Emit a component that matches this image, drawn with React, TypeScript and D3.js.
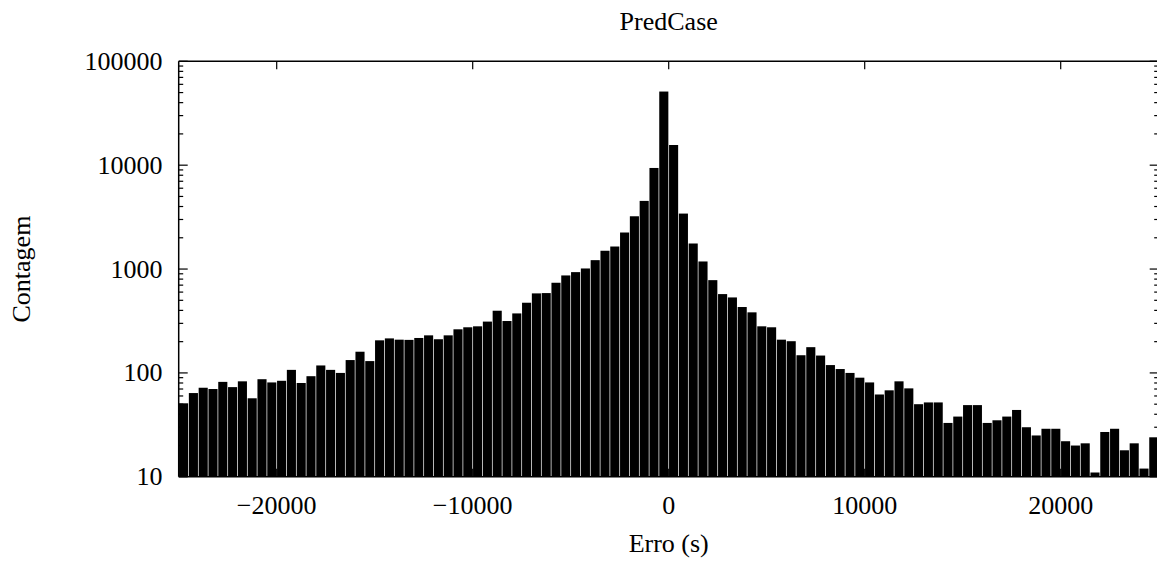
import React from "react";
import * as d3 from "d3";

// ---- data ----
const binStartMin = -25000;
const binWidth = 500;
const counts: number[] = [
  51, 64, 72, 70, 82, 73, 83, 57, 87, 81,
  84, 107, 80, 93, 118, 107, 100, 133, 160, 130,
  206, 215, 209, 208, 217, 230, 211, 230, 263, 275,
  281, 312, 397, 316, 374, 474, 583, 587, 738, 868,
  934, 1013, 1218, 1500, 1648, 2248, 3222, 4530, 9400, 51150,
  15640, 3420, 1762, 1183, 782, 574, 533, 431, 383, 281,
  275, 209, 202, 148, 177, 147, 119, 109, 100, 90,
  81, 62, 68, 83, 71, 50, 52, 52, 33, 38,
  49, 49, 33, 35, 38, 44, 30, 25, 29, 29,
  22, 20, 21, 11, 27, 29, 18, 21, 12, 24,
];
const xTicks: number[] = [-20000, -10000, 0, 10000, 20000];
const yMajorTicks: number[] = [10, 100, 1000, 10000, 100000];
const titleText = "PredCase";
const xLabel = "Erro (s)";
const yLabel = "Contagem";

const W = 1157;
const H = 561;
const L = 178.7;
const R = 1158.7;
const T = 61.3;
const B = 476.8;
const FONT = "'Liberation Serif', 'Times New Roman', serif";

export default function App() {
  const x = d3.scaleLinear().domain([-25000, 25000]).range([L, R]);
  const y = d3.scaleLog().domain([10, 100000]).range([B, T]);

  const bins = counts.map((c, i) => ({
    x0: binStartMin + i * binWidth,
    x1: binStartMin + (i + 1) * binWidth,
    c,
  }));

  const minorTicks: number[] = [];
  for (let k = 0; k < yMajorTicks.length - 1; k++) {
    for (let m = 2; m <= 9; m++) minorTicks.push(m * yMajorTicks[k]);
  }

  const fmtX = (v: number) => (v < 0 ? "\u2212" + Math.abs(v) : String(v));

  return (
    <svg
      width={W}
      height={H}
      style={{ position: "absolute", left: 0, top: 0, display: "block", background: "#fff" }}
    >
      {/* bars */}
      <g>
        {bins.map((b, i) => {
          const x0 = x(b.x0);
          const x1 = x(b.x1);
          const yt = y(Math.max(b.c, 10));
          return (
            <rect
              key={i}
              x={x0 + 0.35}
              y={yt}
              width={x1 - x0 - 0.7}
              height={B - yt}
              fill="#000"
            />
          );
        })}
      </g>

      {/* frame */}
      <g stroke="#000" strokeWidth={1.5} fill="none">
        <line x1={L} y1={T} x2={R} y2={T} />
        <line x1={L} y1={B} x2={R} y2={B} />
        <line x1={L} y1={T} x2={L} y2={B} />
        <line x1={R} y1={T} x2={R} y2={B} />
      </g>

      {/* y ticks */}
      <g stroke="#000" strokeWidth={1.2}>
        {yMajorTicks.map((v) => (
          <g key={"M" + v}>
            <line x1={L} y1={y(v)} x2={L + 9} y2={y(v)} />
            <line x1={R} y1={y(v)} x2={R - 9} y2={y(v)} />
          </g>
        ))}
        {minorTicks.map((v) => (
          <g key={"m" + v}>
            <line x1={L} y1={y(v)} x2={L + 4.5} y2={y(v)} />
            <line x1={R} y1={y(v)} x2={R - 4.5} y2={y(v)} />
          </g>
        ))}
      </g>

      {/* x ticks */}
      <g stroke="#000" strokeWidth={1.2}>
        {xTicks.map((v) => (
          <g key={"x" + v}>
            <line x1={x(v)} y1={T} x2={x(v)} y2={T + 8} />
            <line x1={x(v)} y1={B} x2={x(v)} y2={B - 8} />
          </g>
        ))}
      </g>

      {/* tick labels */}
      <g fontFamily={FONT} fontSize={26} fill="#000">
        {yMajorTicks.map((v) => (
          <text key={"yl" + v} x={162.5} y={y(v)} textAnchor="end" dominantBaseline="central">
            {String(v)}
          </text>
        ))}
        {xTicks.map((v) => (
          <text key={"xl" + v} x={x(v)} y={514} textAnchor="middle">
            {fmtX(v)}
          </text>
        ))}
        <text x={(L + R) / 2} y={30} textAnchor="middle">
          {titleText}
        </text>
        <text x={(L + R) / 2} y={552} textAnchor="middle">
          {xLabel}
        </text>
        <text
          transform={`translate(30, ${(T + B) / 2}) rotate(-90)`}
          textAnchor="middle"
        >
          {yLabel}
        </text>
      </g>
    </svg>
  );
}
